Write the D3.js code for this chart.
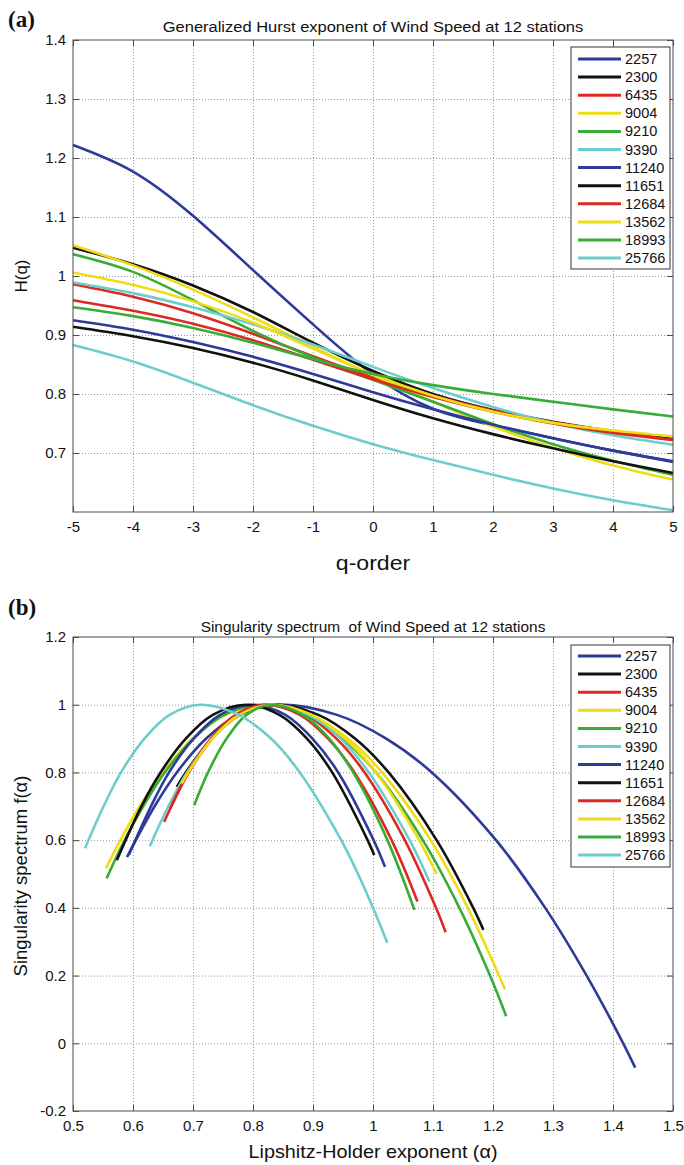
<!DOCTYPE html>
<html>
<head>
<meta charset="utf-8">
<script src="https://cdn.jsdelivr.net/npm/d3@7"></script>
<style>
  body { margin: 0; background: #fff; }
  svg { display: block; }
  text { font-family: "Liberation Sans", Arial, sans-serif; fill: #111; }
</style>
</head>
<body>
<svg id="chart" width="684" height="1165"></svg>
<script>
// ---- data -------------------------------------------------------------
const stations = ["2257", "2300", "6435", "9004", "9210", "9390",
                  "11240", "11651", "12684", "13562", "18993", "25766"];

// q-order grid used for the generalized Hurst exponent
const qOrder = [-5, -4, -3, -2, -1, 0, 1, 2, 3, 4, 5];

// H(q) per station, one row per station (same order as `stations`)
const hurst = [
  [1.222, 1.177, 1.102, 1.010, 0.918, 0.833, 0.775, 0.747, 0.725, 0.704, 0.685], // 2257
  [1.048, 1.020, 0.984, 0.939, 0.887, 0.839, 0.800, 0.773, 0.753, 0.737, 0.724], // 2300
  [0.986, 0.965, 0.937, 0.902, 0.864, 0.828, 0.797, 0.772, 0.752, 0.736, 0.722], // 6435
  [1.052, 1.018, 0.977, 0.930, 0.880, 0.832, 0.787, 0.745, 0.709, 0.679, 0.655], // 9004
  [1.037, 1.007, 0.959, 0.907, 0.862, 0.824, 0.787, 0.749, 0.715, 0.687, 0.663], // 9210
  [0.989, 0.971, 0.947, 0.918, 0.884, 0.846, 0.810, 0.778, 0.751, 0.730, 0.714], // 9390
  [0.925, 0.909, 0.888, 0.863, 0.834, 0.803, 0.774, 0.748, 0.725, 0.704, 0.686], // 11240
  [0.914, 0.898, 0.878, 0.853, 0.823, 0.790, 0.759, 0.732, 0.708, 0.686, 0.666], // 11651
  [0.959, 0.941, 0.919, 0.891, 0.858, 0.825, 0.795, 0.770, 0.750, 0.734, 0.722], // 12684
  [1.006, 0.985, 0.957, 0.921, 0.877, 0.833, 0.797, 0.770, 0.751, 0.738, 0.728], // 13562
  [0.947, 0.932, 0.912, 0.887, 0.859, 0.834, 0.815, 0.800, 0.787, 0.774, 0.762], // 18993
  [0.883, 0.855, 0.819, 0.781, 0.746, 0.715, 0.688, 0.663, 0.640, 0.620, 0.603]  // 25766
];

// singularity spectrum: Holder exponent alpha and f(alpha) per station
const alphaValues = [
  [0.590, 0.636, 0.673, 0.722, 0.775, 0.840, 0.940, 1.022, 1.098, 1.205, 1.287, 1.356, 1.417, 1.437], // 2257
  [0.673, 0.688, 0.731, 0.778, 0.835, 0.909, 0.970, 1.026, 1.106, 1.167, 1.184],                      // 2300
  [0.652, 0.664, 0.693, 0.732, 0.774, 0.825, 0.888, 0.939, 0.986, 1.053, 1.105, 1.121],               // 6435
  [0.555, 0.579, 0.611, 0.650, 0.699, 0.754, 0.820, 0.896, 0.958, 1.015, 1.096, 1.158, 1.210, 1.220], // 9004
  [0.556, 0.586, 0.617, 0.653, 0.701, 0.752, 0.815, 0.889, 0.949, 1.005, 1.083, 1.144, 1.195, 1.222], // 9210
  [0.628, 0.659, 0.690, 0.731, 0.776, 0.830, 0.893, 0.946, 0.993, 1.061, 1.094],                      // 9390
  [0.593, 0.630, 0.660, 0.701, 0.745, 0.798, 0.854, 0.899, 0.942, 1.001, 1.020],                      // 11240
  [0.573, 0.614, 0.646, 0.688, 0.733, 0.788, 0.844, 0.890, 0.932, 0.991, 1.002],                      // 11651
  [0.662, 0.692, 0.730, 0.771, 0.820, 0.878, 0.925, 0.969, 1.031, 1.074],                             // 12684
  [0.681, 0.692, 0.732, 0.777, 0.830, 0.898, 0.953, 1.005, 1.077, 1.106],                             // 13562
  [0.702, 0.725, 0.756, 0.789, 0.830, 0.883, 0.927, 0.967, 1.024, 1.069],                             // 18993
  [0.520, 0.551, 0.580, 0.619, 0.661, 0.712, 0.776, 0.830, 0.878, 0.947, 0.975, 1.000, 1.024]         // 25766
];
const fValues = [
  [0.550, 0.70, 0.80, 0.90, 0.97, 1.00, 0.97, 0.90, 0.80, 0.60, 0.40, 0.20, 0.00, -0.072],
  [0.757, 0.80, 0.90, 0.97, 1.00, 0.97, 0.90, 0.80, 0.60, 0.40, 0.335],
  [0.654, 0.70, 0.80, 0.90, 0.97, 1.00, 0.97, 0.90, 0.80, 0.60, 0.40, 0.328],
  [0.517, 0.60, 0.70, 0.80, 0.90, 0.97, 1.00, 0.97, 0.90, 0.80, 0.60, 0.40, 0.20, 0.159],
  [0.487, 0.60, 0.70, 0.80, 0.90, 0.97, 1.00, 0.97, 0.90, 0.80, 0.60, 0.40, 0.20, 0.080],
  [0.582, 0.70, 0.80, 0.90, 0.97, 1.00, 0.97, 0.90, 0.80, 0.60, 0.478],
  [0.556, 0.70, 0.80, 0.90, 0.97, 1.00, 0.97, 0.90, 0.80, 0.60, 0.521],
  [0.541, 0.70, 0.80, 0.90, 0.97, 1.00, 0.97, 0.90, 0.80, 0.60, 0.556],
  [0.694, 0.80, 0.90, 0.97, 1.00, 0.97, 0.90, 0.80, 0.60, 0.419],
  [0.767, 0.80, 0.90, 0.97, 1.00, 0.97, 0.90, 0.80, 0.60, 0.500],
  [0.703, 0.80, 0.90, 0.97, 1.00, 0.97, 0.90, 0.80, 0.60, 0.394],
  [0.576, 0.70, 0.80, 0.90, 0.97, 1.00, 0.97, 0.90, 0.80, 0.60, 0.50, 0.40, 0.296]
];

// tick values
const qTicks = [-5, -4, -3, -2, -1, 0, 1, 2, 3, 4, 5];
const hTicks = [0.7, 0.8, 0.9, 1.0, 1.1, 1.2, 1.3, 1.4];
const alphaTicks = [0.5, 0.6, 0.7, 0.8, 0.9, 1.0, 1.1, 1.2, 1.3, 1.4, 1.5];
const fTicks = [-0.2, 0, 0.2, 0.4, 0.6, 0.8, 1.0, 1.2];

// ---- styling ----------------------------------------------------------
const lineColors = ["#2d3a98", "#111111", "#dc2a22", "#f0dc14", "#37ad37", "#6dcdcd",
                    "#2d3a98", "#111111", "#dc2a22", "#f0dc14", "#37ad37", "#6dcdcd"];
const X0 = 73, X1 = 673;
const fmt = v => String(+v.toFixed(1));

const svg = d3.select("#chart");
svg.append("rect").attr("width", 684).attr("height", 1165).attr("fill", "#fff");

function label(x, y, s, o) {
  const t = svg.append("text")
    .attr("transform", `translate(${x},${y})` + (o.rot ? ` rotate(${o.rot})` : "") + ` scale(${o.sx || 1},1)`)
    .attr("text-anchor", o.anchor || "middle")
    .attr("font-size", o.size)
    .style("white-space", "pre")
    .text(s);
  if (o.family) t.style("font-family", o.family);
  if (o.weight) t.attr("font-weight", o.weight);
  return t;
}

function drawPanel(cfg) {
  const g = svg.append("g");
  const x = d3.scaleLinear().domain(cfg.xDomain).range([X0, X1]);
  const y = d3.scaleLinear().domain(cfg.yDomain).range([cfg.bottom, cfg.top]);
  const h = cfg.bottom - cfg.top, w = X1 - X0;

  // dotted grid
  const inner = (arr, dom) => arr.filter(v => v > dom[0] + 1e-9 && v < dom[1] - 1e-9);
  const gx = g.append("g").attr("transform", `translate(0,${cfg.bottom})`)
    .call(d3.axisBottom(x).tickValues(inner(cfg.xTicks, cfg.xDomain)).tickSize(-h).tickFormat(""));
  const gy = g.append("g").attr("transform", `translate(${X0},0)`)
    .call(d3.axisLeft(y).tickValues(inner(cfg.yTicks, cfg.yDomain)).tickSize(-w).tickFormat(""));
  [gx, gy].forEach(a => {
    a.select(".domain").remove();
    a.selectAll("line").attr("stroke", "#8c8c8c").attr("stroke-width", 0.9).attr("stroke-dasharray", "1,2");
  });

  // curves
  const line = d3.line().x(d => x(d[0])).y(d => y(d[1])).curve(cfg.curve);
  cfg.series.forEach((pts, i) => {
    g.append("path").attr("d", line(pts)).attr("fill", "none")
      .attr("stroke", lineColors[i]).attr("stroke-width", 2.6)
      .attr("stroke-linejoin", "round").attr("stroke-linecap", "butt");
  });

  // frame
  g.append("rect").attr("x", X0).attr("y", cfg.top).attr("width", w).attr("height", h)
    .attr("fill", "none").attr("stroke", "#4a4a4a").attr("stroke-width", 1);

  // tick marks on all four sides, labels bottom/left
  const axes = [
    g.append("g").attr("transform", `translate(0,${cfg.bottom})`)
      .call(d3.axisBottom(x).tickValues(cfg.xTicks).tickSize(-6).tickSizeOuter(0).tickPadding(9).tickFormat(fmt)),
    g.append("g").attr("transform", `translate(0,${cfg.top})`)
      .call(d3.axisTop(x).tickValues(cfg.xTicks).tickSize(-6).tickSizeOuter(0).tickFormat("")),
    g.append("g").attr("transform", `translate(${X0},0)`)
      .call(d3.axisLeft(y).tickValues(cfg.yTicks).tickSize(-6).tickSizeOuter(0).tickPadding(7).tickFormat(fmt)),
    g.append("g").attr("transform", `translate(${X1},0)`)
      .call(d3.axisRight(y).tickValues(cfg.yTicks).tickSize(-6).tickSizeOuter(0).tickFormat(""))
  ];
  axes.forEach(a => {
    a.select(".domain").remove();
    a.selectAll("line").attr("stroke", "#4a4a4a");
    a.attr("font-family", null).attr("font-size", null);
    a.selectAll("text").attr("font-size", 15).attr("fill", "#111");
  });

  // legend
  const lg = g.append("g");
  const L = cfg.legend;
  lg.append("rect").attr("x", L.x).attr("y", L.y).attr("width", L.w).attr("height", L.h)
    .attr("fill", "#fff").attr("stroke", "#333").attr("stroke-width", 1);
  stations.forEach((s, i) => {
    const yy = L.y + L.first + i * L.step;
    lg.append("line").attr("x1", L.x + 7).attr("x2", L.x + 50).attr("y1", yy).attr("y2", yy)
      .attr("stroke", lineColors[i]).attr("stroke-width", 3);
    lg.append("text").attr("x", L.x + 54).attr("y", yy + 5).attr("font-size", 14.5).text(s);
  });
}

// ---- (a) generalized Hurst exponent ------------------------------------
drawPanel({
  top: 40, bottom: 512,
  xDomain: [-5, 5], yDomain: [0.6, 1.4],
  xTicks: qTicks, yTicks: hTicks,
  curve: d3.curveNatural,
  series: hurst.map(row => row.map((v, j) => [qOrder[j], v])),
  legend: { x: 571, y: 47, w: 99, h: 222, first: 12, step: 18.1 }
});
label(8, 27, "(a)", { anchor: "start", size: 23, weight: "bold", family: "'Liberation Serif', 'Times New Roman', serif" });
label(373, 32, "Generalized Hurst exponent of Wind Speed at 12 stations", { size: 15, sx: 1.1 });
label(27, 276, "H(q)", { size: 17, rot: -90 });
label(373, 570, "q-order", { size: 21, sx: 1.1 });

// ---- (b) singularity spectrum ------------------------------------------
drawPanel({
  top: 637, bottom: 1111,
  xDomain: [0.5, 1.5], yDomain: [-0.2, 1.2],
  xTicks: alphaTicks, yTicks: fTicks,
  curve: d3.curveCatmullRom.alpha(0.5),
  series: alphaValues.map((row, i) => row.map((a, j) => [a, fValues[i][j]])),
  legend: { x: 571, y: 645, w: 99, h: 222, first: 11, step: 18.1 }
});
label(8, 615, "(b)", { anchor: "start", size: 23, weight: "bold", family: "'Liberation Serif', 'Times New Roman', serif" });
label(373, 632, "Singularity spectrum  of Wind Speed at 12 stations", { size: 14, sx: 1.1 });
label(27, 876, "Singularity spectrum f(\u03B1)", { size: 18.5, rot: -90 });
label(373, 1158, "Lipshitz-Holder exponent (\u03B1)", { size: 18, sx: 1.1 });
</script>
</body>
</html>
